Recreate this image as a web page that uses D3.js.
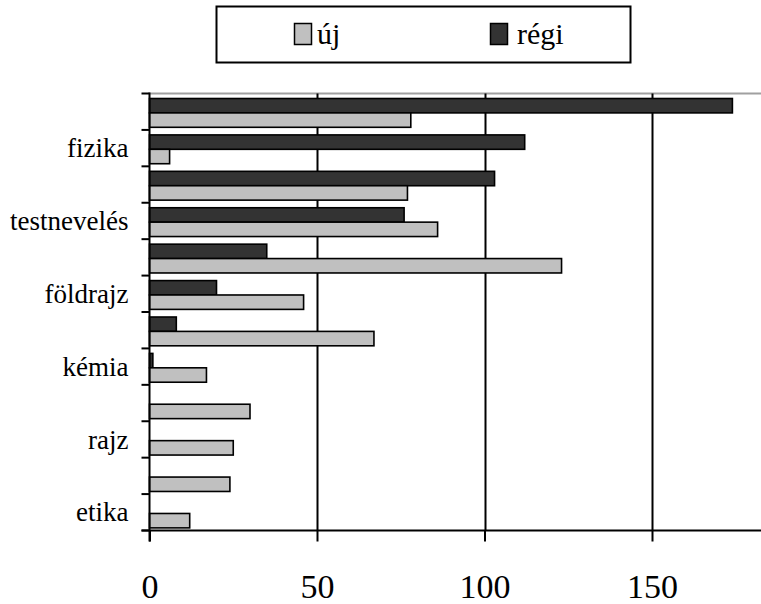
<!DOCTYPE html>
<html>
<head>
<meta charset="utf-8">
<script src="https://cdn.jsdelivr.net/npm/d3@7"></script>
<style>
  html, body { margin: 0; padding: 0; background: #fff; }
</style>
</head>
<body>
<svg id="chart" width="761" height="604"></svg>
<script>
// Categories top to bottom (only every other one carries a visible label)
const categories = ["", "fizika", "", "testnevelés", "", "földrajz", "", "kémia", "", "rajz", "", "etika"];
const seriesNames = ["új", "régi"];
const ujValues   = [78, 6, 77, 86, 123, 46, 67, 17, 30, 25, 24, 12];
const regiValues = [174, 112, 103, 76, 35, 20, 8, 1, 0, 0, 0, 0];
const xTicks = [0, 50, 100, 150];
const colors = { "új": "#c0c0c0", "régi": "#333333" };

(function () {
const FONT = "Liberation Serif";
const svg = d3.select("#chart");
const pLeft = 149.5, pRight = 761, pTop = 93.5, pBottom = 530.5;

const x = d3.scaleLinear().domain([0, 180]).range([pLeft, pLeft + 180 * 3.35]);
const idx = d3.range(categories.length);
const y0 = d3.scaleBand().domain(idx).range([pTop, pBottom]).padding(0);
const y1 = d3.scaleBand().domain(["régi", "új"]).range([5, 33.8]).padding(0);

const rows = idx.map(i => ({ i, "új": ujValues[i], "régi": regiValues[i] }));

// top border (gray)
svg.append("line").attr("x1", pLeft).attr("x2", pRight).attr("y1", pTop).attr("y2", pTop)
  .attr("stroke", "#a0a0a0").attr("stroke-width", 2);

// gridlines
svg.append("g").selectAll("line").data(xTicks.filter(d => d > 0)).join("line")
  .attr("x1", d => Math.round(x(d)) + 0.5).attr("x2", d => Math.round(x(d)) + 0.5)
  .attr("y1", pTop).attr("y2", pBottom)
  .attr("stroke", "#000").attr("stroke-width", 2);

// bars
const g = svg.append("g");
const grp = g.selectAll("g").data(rows).join("g")
  .attr("transform", d => `translate(0,${y0(d.i)})`);
grp.selectAll("rect").data(d => ["régi", "új"].map(k => ({ k, v: d[k] })).filter(e => e.v > 0)).join("rect")
  .attr("x", x(0))
  .attr("y", e => y1(e.k))
  .attr("width", e => x(e.v) - x(0))
  .attr("height", y1.bandwidth())
  .attr("fill", e => colors[e.k])
  .attr("stroke", "#000").attr("stroke-width", 1.6);

// y axis
const yAxis = d3.axisLeft(y0).tickSize(0).tickFormat(i => categories[i]);
const ya = svg.append("g").attr("transform", `translate(${pLeft},0)`).call(yAxis)
  .attr("font-family", FONT);
ya.select(".domain").remove();
ya.selectAll("text").attr("x", -21).attr("dy", "0.34em")
  .style("font-size", "27px").style("font-family", FONT).attr("fill", "#000");
// y ticks at band boundaries
const bounds = idx.map(i => y0(i)).concat([pBottom]);
svg.append("g").selectAll("line").data(bounds).join("line")
  .attr("x1", pLeft - 8).attr("x2", pLeft).attr("y1", d => d).attr("y2", d => d)
  .attr("stroke", "#000").attr("stroke-width", 2);
svg.append("line").attr("x1", pLeft).attr("x2", pLeft).attr("y1", pTop - 1).attr("y2", pBottom + 11)
  .attr("stroke", "#000").attr("stroke-width", 2);

// x axis
const xAxis = d3.axisBottom(x).tickValues(xTicks).tickSize(11).tickPadding(32).tickSizeOuter(0);
const xa = svg.append("g").attr("transform", `translate(0,${pBottom})`).call(xAxis)
  .attr("font-family", FONT);
xa.select(".domain").remove();
xa.selectAll(".tick line").attr("stroke", "#000").attr("stroke-width", 2);
xa.selectAll("text").style("font-size", "34px").style("font-family", FONT).attr("dy", "0.71em").attr("fill", "#000");
svg.append("line").attr("x1", pLeft - 8).attr("x2", pRight).attr("y1", pBottom).attr("y2", pBottom)
  .attr("stroke", "#000").attr("stroke-width", 2);

// legend
const lg = svg.append("g");
lg.append("rect").attr("x", 216.5).attr("y", 6.5).attr("width", 414).attr("height", 56)
  .attr("fill", "#fff").attr("stroke", "#000").attr("stroke-width", 2);
const legendItems = [{ k: seriesNames[0], sx: 294.5, tx: 317 }, { k: seriesNames[1], sx: 490.5, tx: 517 }];
legendItems.forEach(it => {
  lg.append("rect").attr("x", it.sx).attr("y", 23.5).attr("width", 17).attr("height", 21)
    .attr("fill", colors[it.k]).attr("stroke", "#000").attr("stroke-width", 1.5);
  lg.append("text").attr("x", it.tx).attr("y", 44).text(it.k)
    .style("font-size", "30px").style("font-family", FONT).attr("fill", "#000");
});
})();
</script>
</body>
</html>
